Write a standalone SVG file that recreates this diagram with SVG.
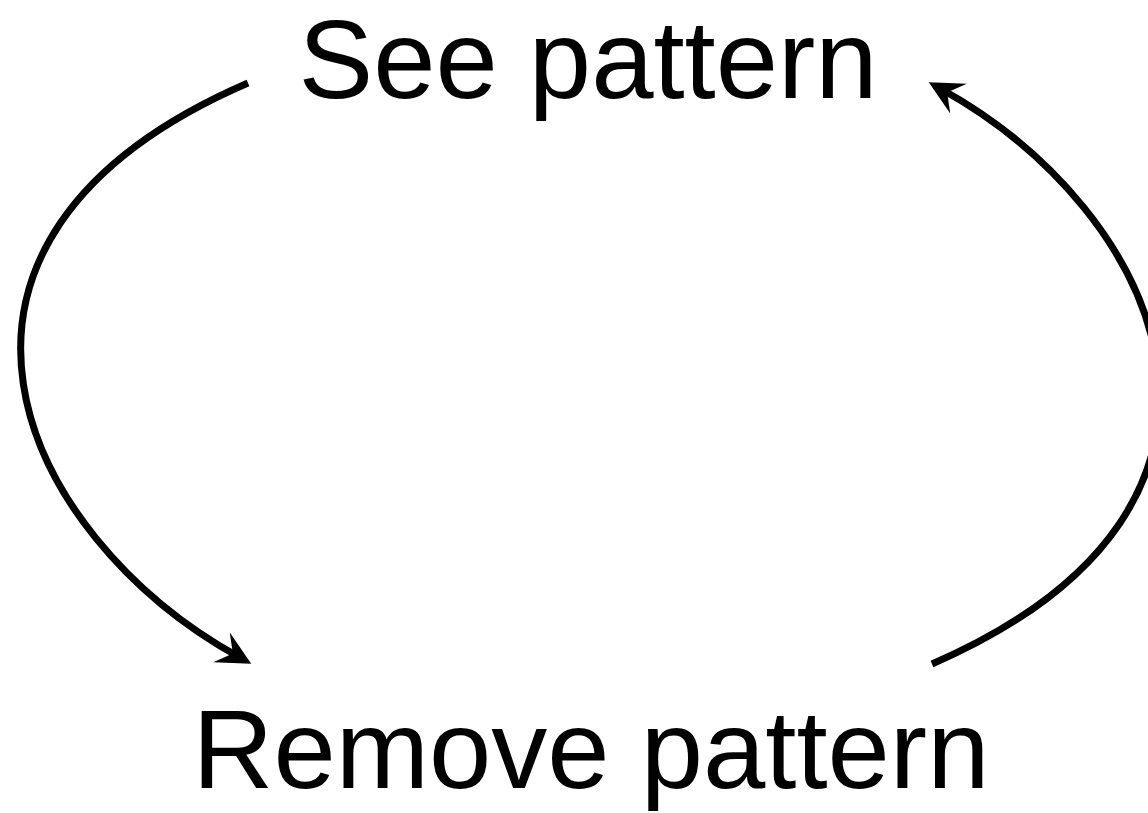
<svg xmlns="http://www.w3.org/2000/svg" width="1148" height="813" viewBox="0 0 1148 813">
  <defs>
    <style>
      .label { font-family: "Liberation Sans", Arial, Helvetica, sans-serif; font-size: 112px; fill: #000; text-anchor: middle; }
      .conn { fill: none; stroke: #000; stroke-width: 7; marker-end: url(#arrow); }
    </style>
    <marker id="arrow" markerUnits="userSpaceOnUse" markerWidth="40" markerHeight="40" refX="20" refY="17" orient="auto">
      <path d="M34,17 L0,0 L13,17 L0,34 Z" fill="#000"/>
    </marker>
  </defs>
  <rect width="1148" height="813" fill="#fff"/>
  <g id="node-see">
    <text class="label" x="588" y="98">See pattern</text>
  </g>
  <g id="node-remove">
    <text class="label" x="591" y="788">Remove pattern</text>
  </g>
  <g id="connectors">
    <path class="conn" d="M248,83 C-120,242 20,536 239,657"/>
    <path class="conn" d="M932,664 C1300,504 1160,210 941,89"/>
  </g>
</svg>
